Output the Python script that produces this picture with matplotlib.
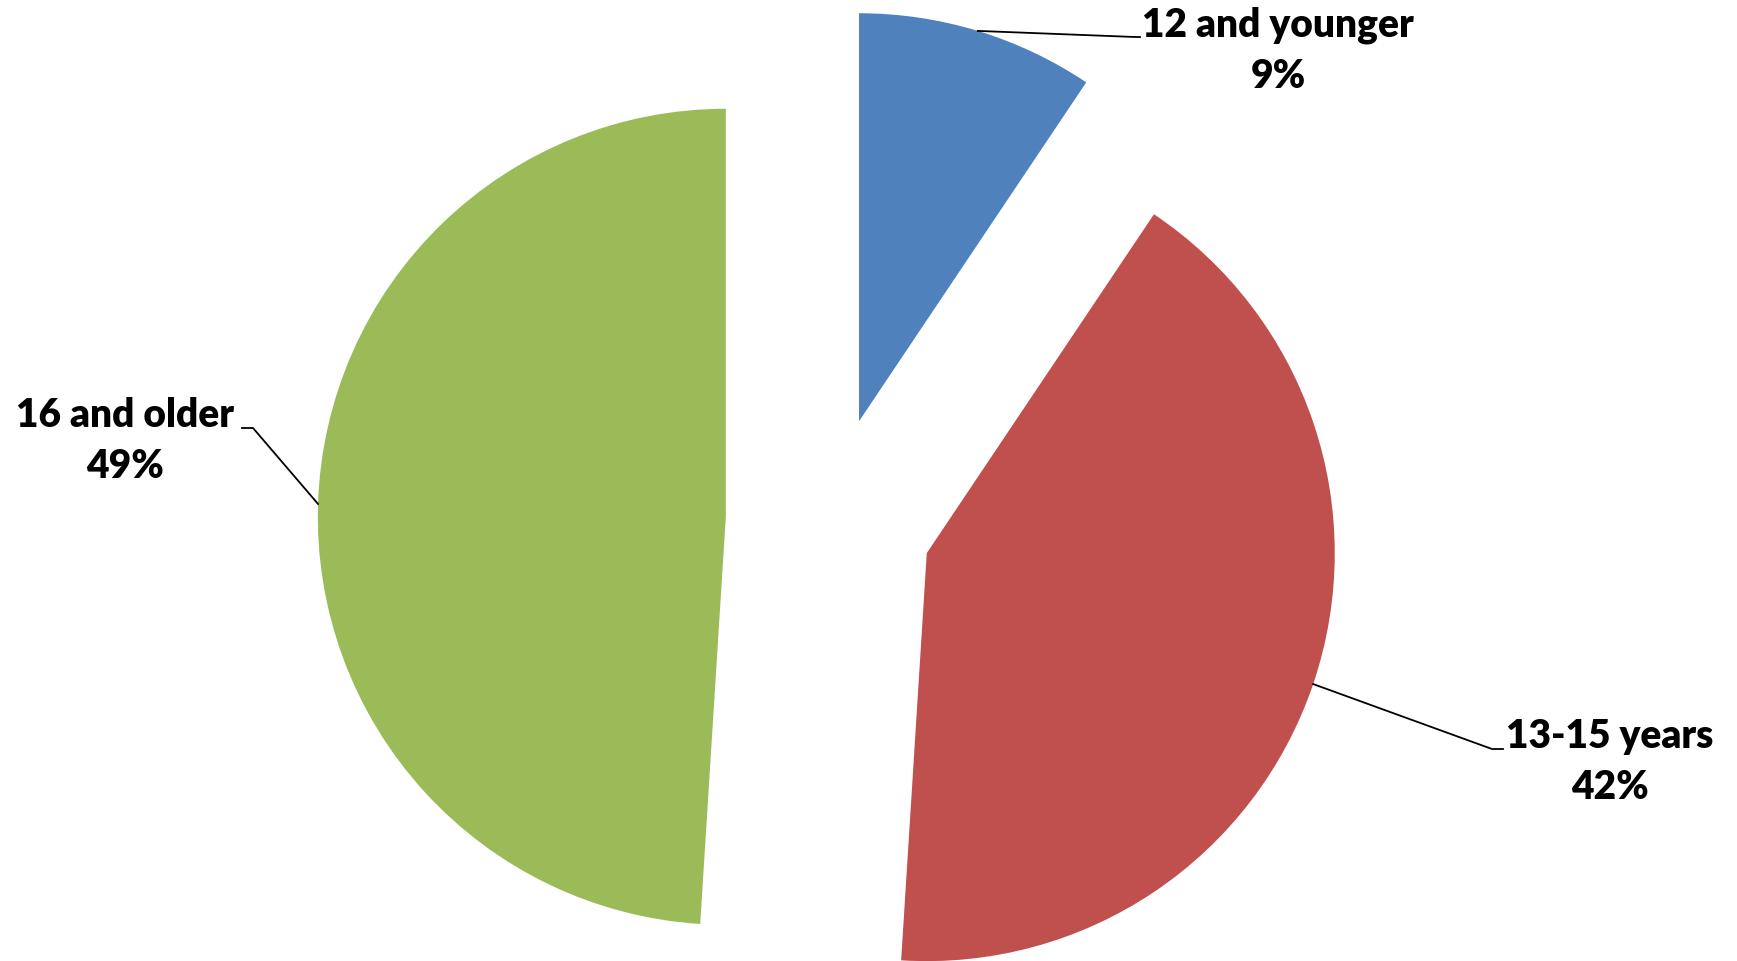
import matplotlib.pyplot as plt
import numpy as np

W, H = 1737, 961

labels = ['12 and younger', '13-15 years', '16 and older']
shares = [9.4, 41.6, 49.0]
colors = ['#4F81BD', '#C0504D', '#9BBB59']

# label text centres and elbow points (pixels from top-left)
text_pos = [(1278, 51), (1610, 762), (125, 441)]
elbow_pos = [(1135, 37), (1492, 749), (253, 428)]
end_pos = [(1140, 37), (1503, 749), (242, 428)]

cx, cy, R = 829, 520, 408
gap = 0.253 * R   # explode is an absolute offset in data units

fig = plt.figure(figsize=(W / 100, H / 100), dpi=100)
ax = fig.add_axes([0, 0, 1, 1])

wedges, _ = ax.pie(shares, colors=colors, startangle=90, counterclock=False,
                   explode=[gap] * 3, radius=R, center=(cx, H - cy))

# pie() resets the limits, so set them afterwards
ax.set_xlim(0, W)
ax.set_ylim(0, H)
ax.set_aspect('equal')
ax.axis('off')

for w, lab, s, tp, ep, en in zip(wedges, labels, shares, text_pos, elbow_pos, end_pos):
    ang = np.deg2rad((w.theta1 + w.theta2) / 2)
    x0 = w.center[0] + R * np.cos(ang)
    y0 = w.center[1] + R * np.sin(ang)
    ax.plot([x0, ep[0], en[0]], [y0, H - ep[1], H - en[1]], color='black', lw=1.3)
    ax.text(tp[0], H - tp[1], f'{lab}\n{round(s)}%', ha='center', va='center',
            fontsize=28, fontweight='heavy', family='Lato', linespacing=1.45)

fig.savefig('out.png', dpi=100)
